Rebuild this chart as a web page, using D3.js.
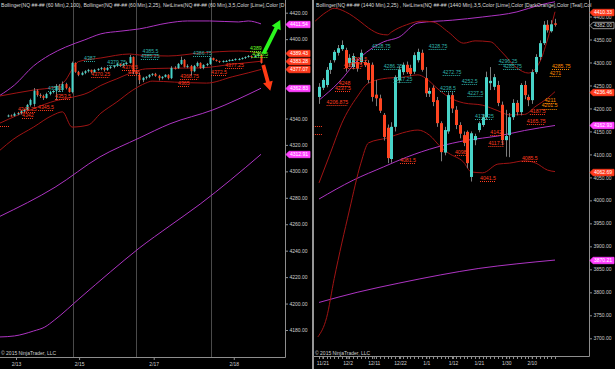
<!DOCTYPE html>
<html><head><meta charset="utf-8">
<script src="https://cdn.jsdelivr.net/npm/d3@7"></script>
<style>html,body{margin:0;padding:0;background:#000;overflow:hidden}svg{display:block}</style>
</head><body>
<svg id="chart" width="615" height="369"></svg>
<script>
// ---------------- LEFT PANEL DATA (60 min) ----------------
const leftTitle = "Bollinger(NQ ##-## (60 Min),2,100), Bollinger(NQ ##-## (60 Min),2,25), NetLines(NQ ##-## (60 Min),3,5,Color [Lime],Color [D";
const leftOpen = [4342,4342.25,4342,4343.5,4344,4345.5,4346.5,4350.25,4351,4361,4357.75,4357,4355.5,4358.5,4360,4361,4364.5,4361.5,4366,4363,4360,4382,4375.25,4373,4374.5,4375.75,4376.75,4375,4376.75,4377.5,4378.25,4376.75,4378.25,4379,4379.75,4381.25,4379.75,4381.25,4382,4386.5,4375.25,4373,4369,4370.75,4371.5,4373,4373.75,4372.25,4370.5,4371.5,4373,4370.5,4378.25,4378,4381.25,4384.25,4379,4379.75,4375.75,4379.75,4382,4378.25,4380.5,4381.25,4385.75,4384.25,4383.5,4382.75,4383.5,4383.5,4384.25,4384.25,4385,4385,4385.75,4386.5,4387.25,4386.5,4387.25,4388.25];
const leftHigh = [4343,4343,4344.5,4345,4346.5,4347.25,4351,4355,4363,4362,4359,4358,4359.5,4361,4361.5,4366,4366,4368,4367,4364,4383,4382.5,4376,4375.5,4376.5,4377.5,4377,4377.5,4378,4379,4378.75,4379,4380,4380.5,4382,4381.75,4382,4383,4388,4387,4376.5,4374.5,4371.5,4372,4373.5,4374.25,4374.5,4373,4372,4373.5,4373.5,4379.5,4379.5,4382,4386.75,4385,4381,4380.5,4380.5,4383,4382.5,4381,4382,4386.75,4386,4384.75,4383.75,4384,4384.25,4384.75,4385,4385.5,4385.75,4386.25,4387,4388,4387.75,4388.25,4389.5,4388.5];
const leftLow = [4341,4341.5,4341.5,4342.5,4343,4344.5,4345.75,4349,4349,4356.5,4355.5,4354,4355,4357.5,4359,4354,4360,4360.5,4362,4359.5,4359,4374.5,4372,4372.5,4373.5,4374.75,4374,4374.5,4376,4376.5,4375.5,4376,4377.5,4378,4379,4379,4379,4380.5,4381.5,4373.5,4372.5,4366,4367.5,4369.5,4370.5,4372,4371.5,4368.75,4369.5,4371,4369.5,4369.75,4377,4377.5,4380.5,4378.5,4378,4372.5,4375,4379,4377.5,4377.25,4379.5,4380.5,4383.75,4383,4382,4382.25,4382.75,4383,4383.5,4383.75,4384,4384.5,4385,4386,4385.5,4386,4386.75,4381.5];
const leftClose = [4342.25,4342,4343.5,4344,4345.5,4346.5,4350.25,4354,4361,4357.75,4357,4355.5,4358.5,4360,4360.75,4364.5,4361.5,4366,4363,4360,4382,4375.25,4373,4374.5,4375.75,4376.75,4375,4376.75,4377.5,4378.25,4376.75,4378.25,4379,4379.75,4381.25,4379.75,4381.25,4382,4386.5,4375.25,4373.75,4369,4370.75,4371.5,4373,4373.75,4372.25,4370.5,4371.5,4373,4370.5,4378.25,4378,4381.25,4384.25,4379,4379.75,4375.75,4379.75,4382,4378.25,4380.5,4381.25,4385.75,4384.25,4383.5,4382.75,4383.5,4383.5,4384.25,4384.25,4385,4385,4385.75,4386.5,4387.25,4386.5,4387.25,4388.25,4382];
// Bollinger (2,25) – dark red
const lbUpIdx  = [-2.5, 8, 15, 18, 20, 22, 29, 38, 41, 50, 60, 72, 79];
const lbUpVal  = [4357, 4361.5, 4364, 4369, 4377, 4383, 4385.75, 4388.75, 4388, 4387.25, 4389.5, 4391, 4389.43];
const lbMidIdx = [-2.5, 8, 15, 20, 25, 29, 34, 39, 43, 50, 60, 70, 79];
const lbMidVal = [4336.5, 4347.5, 4353.5, 4356, 4359.5, 4365, 4370, 4375, 4377.5, 4378, 4378.25, 4381, 4383.28];
const lbLoIdx  = [-2.5, 1.5, 8, 14, 17, 20, 25, 29, 34, 39, 43, 45, 52, 62, 70, 75, 79];
const lbLoVal  = [4316, 4324, 4333.5, 4342.5, 4345, 4333.5, 4335, 4344, 4352.5, 4361.5, 4366.75, 4368.25, 4367.5, 4366.75, 4371.5, 4374.5, 4377.07];
// Bollinger (2,100) – magenta
const lmUpIdx  = [-2.5, 2, 8, 13, 18, 24, 29, 35, 41, 50, 56, 63, 72, 75, 79];
const lmUpVal  = [4357.5, 4365.25, 4379.75, 4388, 4394, 4399.5, 4404, 4406, 4407.75, 4412.25, 4413.75, 4413.75, 4413, 4413.75, 4411.54];
const lmMidIdx = [-2.5, 14.7, 28.75, 41, 50.6, 64, 79];
const lmMidVal = [4266, 4288, 4311, 4325.25, 4336, 4346.5, 4362.83];
const lmLoIdx  = [-2.5, 2, 8, 11.5, 14.5, 22.5, 32, 41, 50.5, 60, 69.5, 79];
const lmLoVal  = [4174.75, 4175.5, 4179.25, 4182.25, 4187.5, 4204.25, 4224, 4242, 4258.75, 4275.25, 4293.5, 4312.91];
// NetLines labels
const lLabText  = ["4387","4379.75","4385.5","4385.25","4386.75","4359.5","4370.25","4376.5","4378","4368.75","4365","4377.25","4372.5","4345.5","4353.5","4343.25","4342","4389","4388.5",""];
const lLabIdx   = [23.75, 31, 42, 41.5, 57.8, 12.5, 26, 35.6, 37.5, 53.75, 53.1, 67.8, 63.4, 9.4, 14.7, 3.1, 4.4, 75.6, 76.3, -2.5];
const lLabPrice = [4383.5, 4380.4, 4388.8, 4385.0, 4387.2, 4360.8, 4371.4, 4376.7, 4372.9, 4369.9, 4364.6, 4378.2, 4372.9, 4346.4, 4354.7, 4344.9, 4340.5, 4391, 4386.5, 4334.3];
const lLabColor = ["T","T","T","T","T","T","R","R","R","R","R","R","R","R","R","R","R","G","G","R"];
const lSessionBreaks = [20.3, 40, 63.4];
const lDateText = ["2/13","2/15","2/17","2/18"];
const lDateIdx  = [2.5, 22.2, 45.5, 70.5];
const lYTicks = [4180,4200,4220,4240,4260,4280,4300,4320,4340,4360,4380,4400,4420];
const lMarkVal = [4411.54, 4389.43, 4383.28, 4377.07, 4362.83, 4312.91];
const lMarkCol = ["M","R","R","R","M","M"];
const lArrowUp   = [[79.8, 4389], [85, 4414.5]];
const lArrowDown = [[79.7, 4380.4], [81.9, 4361]];

// ---------------- RIGHT PANEL DATA (1440 min) ----------------
const rightTitle = "Bollinger(NQ ##-## (1440 Min),2,25) , NetLines(NQ ##-## (1440 Min),3,5,Color [Lime],Color [DarkOrange],Color [Teal],Col";
const rOpen  = [4225,4245,4251,4284,4305,4321,4329,4327,4299,4290,4301,4301,4301,4299,4295,4230,4222,4186,4158,4090,4160,4262,4279,4295,4288,4280,4305,4321,4266,4232,4245,4218,4168,4104,4150,4229,4197,4164,4142,4149,4051,4131,4153,4164,4181,4255,4247,4251,4208,4131,4142,4181,4212,4192,4251,4225,4218,4279,4312,4342,4382,4368,4385];
const rHigh  = [4255,4266,4290,4305,4327,4338,4348,4332,4318,4320,4308,4328,4306,4305,4300,4262,4230,4190,4165,4170,4272,4292,4300,4302,4295,4322,4330,4328,4290,4245,4250,4225,4172,4160,4235,4235,4205,4170,4150,4152,4150,4145,4172,4188,4280,4290,4275,4260,4215,4197,4190,4220,4218,4255,4260,4230,4285,4318,4348,4390,4392,4392,4395];
const rLow   = [4210,4240,4246,4275,4300,4315,4325,4280,4290,4285,4280,4296,4290,4255,4215,4205,4190,4130,4081,4082,4150,4255,4273,4275,4270,4275,4300,4280,4225,4225,4205,4160,4085,4098,4145,4190,4155,4135,4118,4070,4041,4120,4148,4160,4175,4240,4240,4205,4120,4095,4094,4175,4185,4185,4220,4205,4210,4275,4305,4338,4365,4365,4378];
const rClose = [4247,4262,4284,4299,4323,4331,4338,4288,4310,4314,4288,4321,4294,4262,4225,4222,4195,4138,4092,4160,4268,4284,4295,4279,4275,4316,4323,4284,4233,4238,4214,4168,4105,4153,4229,4200,4164,4145,4125,4081,4146,4140,4168,4181,4268,4260,4268,4212,4131,4140,4181,4212,4192,4251,4229,4218,4279,4312,4342,4382,4370,4383,4382];
const rbUpIdx  = [-1, 2, 4, 7, 11, 13, 16, 18, 19, 23, 27, 30, 34, 38, 41, 45, 48, 52, 55, 58, 60, 62];
const rbUpVal  = [4390, 4410, 4418, 4410, 4388, 4375, 4362, 4360, 4366, 4382, 4390, 4388, 4366, 4342, 4347, 4345, 4323, 4288, 4277, 4301, 4349, 4410.33];
const rbMidIdx = [0, 3, 6, 10, 13, 18, 22, 26, 28, 31, 34, 38, 43, 47, 50, 54, 57, 60, 62];
const rbMidVal = [4038, 4103, 4168, 4225, 4255, 4266, 4268, 4273, 4266, 4244, 4225, 4212, 4207, 4195, 4186, 4187, 4205, 4222, 4236.46];
const rbLoIdx  = [-0.3, 2, 4, 8, 11, 13, 18, 22, 26, 29, 32, 34, 38, 40, 43, 47, 50, 54, 57, 60, 62];
const rbLoVal  = [3703, 3745, 3830, 3979, 4081, 4125, 4136, 4147, 4153, 4142, 4116, 4103, 4083, 4062, 4060, 4079, 4081, 4086, 4081, 4066, 4062.69];
const rmUpIdx  = [0, 5, 11, 17, 21, 26, 35, 43, 52, 58, 62];
const rmUpVal  = [4218, 4255, 4312, 4345, 4355, 4386, 4392, 4399, 4410, 4425, 4432];
const rmMidIdx = [0, 9, 17, 23, 31, 39, 47, 54, 62];
const rmMidVal = [4003, 4044, 4073, 4094, 4116, 4131, 4140, 4152, 4162.93];
const rmLoIdx  = [0, 10, 21, 32, 42, 52, 62];
const rmLoVal  = [3778, 3800, 3820, 3838, 3852, 3862, 3870.21];
const rLabText  = ["4328.75","4328.75","4286.25","4257.25","4272.75","4238.5","4252.5","4227.5","4296.25","4285.75","4176.25","4301.5","4287.75","4248","4237.5","4206.875","4081.5","4041.5","4085.5","4165.75","4187.5","4142","4117.5","4098","4285.75","4271","4211","4201.5","",""];
const rLabIdx   = [13.9, 28.8, 17, 19.6, 32.5, 31.8, 37.5, 39, 47.2, 48.4, 41, 8.5, 6.5, 5.2, 4.2, 2, 21.3, 42.3, 53.3, 54.6, 55.4, 45, 44.5, 35.7, 61.2, 60.6, 59.3, 58.5, -1.6, -1.6];
const rLabPrice = [4328.75, 4328.75, 4286.25, 4257.25, 4272.75, 4238.5, 4252.5, 4227.5, 4296.25, 4285.75, 4176.25, 4301.5, 4287.75, 4248, 4237.5, 4206.875, 4081.5, 4041.5, 4085.5, 4165.75, 4187.5, 4142, 4117.5, 4098, 4285.75, 4271, 4211, 4199.5, 4162, 4144];
const rLabColor = ["T","T","T","T","T","T","T","T","T","T","T","R","R","R","R","R","R","R","R","R","R","R","R","R","O","O","O","O","R","R"];
const rDateText = ["11/21","12/2","12/11","12/22","1/1","1/12","1/21","1/30","2/10"];
const rDateIdx  = [0.9, 7.5, 14.4, 21.3, 28.2, 35.2, 42, 49.2, 55.9];
const rYTicks = [3700,3750,3800,3850,3900,3950,4000,4050,4100,4150,4200,4250,4300,4350,4400];
const rMarkVal = [4410.33, 4382.00, 4236.46, 4162.93, 4062.69, 3870.21];
const rMarkCol = ["R","K","R","M","R","M"];

// ---------------- STYLE ----------------
const FONT = '"Liberation Sans", Arial, sans-serif';
const UP = '#48d4c9', DN = '#ff4521', WICK = '#7c7c7c';
const DARKRED = '#a01414', MAGENTA = '#ad34c2';
const LABCOL = {T:'#2fb0a8', R:'#ff3b1e', O:'#ff8c00', G:'#66ff22'};
const MARKFILL = {R:'#ff3b1e', M:'#ff40ff', K:'#000'};
const AXIS = '#8e8e8e', TXT = '#cfcfcf';

const svg = d3.select('#chart');
svg.append('rect').attr('width',615).attr('height',369).attr('fill','#000');
const defs = svg.append('defs');
defs.append('clipPath').attr('id','clipL').append('rect').attr('x',0).attr('y',0).attr('width',285).attr('height',357);
defs.append('clipPath').attr('id','clipR').append('rect').attr('x',313.5).attr('y',0).attr('width',275.5).attr('height',356);

// scales
const lx = d3.scaleLinear().domain([0,79]).range([8,261]);
const ly = d3.scaleLinear().domain([4180,4420]).range([330,12.7]);
const rx = d3.scaleLinear().domain([0,62]).range([319,555]);
const ry = d3.scaleLinear().domain([3700,4400]).range([338.3,16.5]);

function curve(g, x, y, idx, val, color, w){
  const pts = idx.map((d,i)=>[d,val[i]]);
  g.append('path').datum(pts)
    .attr('d', d3.line().x(d=>x(d[0])).y(d=>y(d[1])).curve(d3.curveMonotoneX))
    .attr('fill','none').attr('stroke',color).attr('stroke-width',w||1);
}
function candles(g, x, y, O, Hh, L, C, bw){
  const idx = d3.range(O.length);
  g.selectAll(null).data(idx).join('line')
    .attr('x1',i=>Math.round(x(i))+0.5).attr('x2',i=>Math.round(x(i))+0.5)
    .attr('y1',i=>y(Hh[i])).attr('y2',i=>y(L[i]))
    .attr('stroke',WICK).attr('stroke-width',1);
  g.selectAll(null).data(idx).join('rect')
    .attr('x',i=>Math.round(x(i))+0.5-bw/2).attr('width',bw)
    .attr('y',i=>y(Math.max(O[i],C[i])))
    .attr('height',i=>Math.max(1,Math.abs(y(O[i])-y(C[i]))))
    .attr('fill',i=>C[i]>=O[i]?UP:DN);
}
function netLabels(g, x, y, texts, idx, prices, cols){
  const data = texts.map((t,i)=>({t, i:idx[i], p:prices[i], c:LABCOL[cols[i]]}));
  g.selectAll(null).data(data).join('line')
    .attr('x1',d=>x(d.i)).attr('x2',d=>x(d.i)+(d.t? d.t.length*2.45+1 : 9))
    .attr('y1',d=>Math.round(y(d.p))+0.5).attr('y2',d=>Math.round(y(d.p))+0.5)
    .attr('stroke',d=>d.c).attr('stroke-width',1).attr('stroke-dasharray','1,1');
  g.selectAll(null).data(data.filter(d=>d.t)).join('text')
    .attr('x',d=>x(d.i)).attr('y',d=>y(d.p)-1.2).text(d=>d.t)
    .attr('fill',d=>d.c).attr('font-family',FONT).attr('font-size',5.2);
}
function yAxis(x0, y, ticks, y0, y1, markVals){
  // tick labels hidden under a price marker are left out, as in the reference
  const shown = ticks.filter(t=>!markVals.some(m=>Math.abs(y(m)-y(t))<4.6));
  const g = svg.append('g').attr('transform',`translate(${x0},0)`);
  g.call(d3.axisRight(y).tickValues(shown).tickFormat(d3.format('.2f')).tickSize(3).tickSizeOuter(0));
  g.select('.domain').remove();
  g.selectAll('.tick line').attr('stroke',AXIS);
  g.selectAll('.tick text').attr('fill',TXT).attr('font-family',FONT).attr('font-size',5).attr('x',4.5);
  svg.append('line').attr('x1',x0+0.5).attr('x2',x0+0.5).attr('y1',y0).attr('y2',y1).attr('stroke',AXIS);
}
function xAxis(y0, x, idxs, texts, xa, xb, minor){
  svg.append('line').attr('x1',xa).attr('x2',xb).attr('y1',y0+0.5).attr('y2',y0+0.5).attr('stroke',AXIS);
  const g = svg.append('g').attr('transform',`translate(0,${y0})`);
  g.call(d3.axisBottom(x).tickValues(idxs).tickFormat((d,i)=>texts[i]).tickSize(3).tickSizeOuter(0));
  g.select('.domain').remove();
  g.selectAll('.tick line').attr('stroke',AXIS);
  g.selectAll('.tick text').attr('fill',TXT).attr('font-family',FONT).attr('font-size',5).attr('y',5);
  if(minor){
    g.selectAll(null).data(minor).join('line')
      .attr('x1',d=>Math.round(x(d))+0.5).attr('x2',d=>Math.round(x(d))+0.5)
      .attr('y1',0).attr('y2',3).attr('stroke',AXIS);
  }
}
function markers(x0, y, vals, cols){
  const g = svg.append('g');
  vals.forEach((v,i)=>{
    const yy = Math.round(y(v))+0.5, h=3.2, w=24;
    const k = cols[i];
    g.append('path')
      .attr('d',`M${x0},${yy} L${x0+3},${yy-h} L${x0+w},${yy-h} L${x0+w},${yy+h} L${x0+3},${yy+h} Z`)
      .attr('fill',MARKFILL[k]).attr('stroke',k==='K'?'#bbb':MARKFILL[k]).attr('stroke-width',0.8);
    g.append('text').attr('x',x0+4).attr('y',yy).attr('dy','0.36em').text(d3.format('.2f')(v))
      .attr('fill',k==='K'?'#ddd':'#fff').attr('font-family',FONT).attr('font-size',5);
  });
}
function arrow(g, x, y, seg, color){
  const x1=x(seg[0][0]), y1=y(seg[0][1]), x2=x(seg[1][0]), y2=y(seg[1][1]);
  const dx=x2-x1, dy=y2-y1, L=Math.hypot(dx,dy), ux=dx/L, uy=dy/L, px=-uy, py=ux;
  const hl=9, hw=5, sw=1.9;
  const bx=x2-ux*hl, by=y2-uy*hl;
  const pts=[[x1+px*sw,y1+py*sw],[bx+px*sw,by+py*sw],[bx+px*hw,by+py*hw],[x2,y2],[bx-px*hw,by-py*hw],[bx-px*sw,by-py*sw],[x1-px*sw,y1-py*sw]];
  g.append('path').attr('d','M'+pts.map(p=>p.join(',')).join('L')+'Z').attr('fill',color);
}

// ---------------- LEFT PANEL ----------------
const gl = svg.append('g').attr('clip-path','url(#clipL)');
gl.selectAll(null).data(lSessionBreaks).join('line')
  .attr('x1',d=>Math.round(lx(d))+0.5).attr('x2',d=>Math.round(lx(d))+0.5)
  .attr('y1',0).attr('y2',357).attr('stroke','#4a4a4a');
curve(gl, lx, ly, lmUpIdx, lmUpVal, MAGENTA);
curve(gl, lx, ly, lmMidIdx, lmMidVal, MAGENTA);
curve(gl, lx, ly, lmLoIdx, lmLoVal, MAGENTA);
curve(gl, lx, ly, lbUpIdx, lbUpVal, DARKRED);
curve(gl, lx, ly, lbMidIdx, lbMidVal, DARKRED);
curve(gl, lx, ly, lbLoIdx, lbLoVal, DARKRED);
candles(gl, lx, ly, leftOpen, leftHigh, leftLow, leftClose, 2);
netLabels(gl, lx, ly, lLabText, lLabIdx, lLabPrice, lLabColor);
arrow(gl, lx, ly, lArrowUp, '#2bf51e');
arrow(gl, lx, ly, lArrowDown, '#ff3a14');

svg.append('text').attr('x',1).attr('y',7).text(leftTitle)
  .attr('fill','#dcdcdc').attr('font-family',FONT).attr('font-size',5.1);
svg.append('text').attr('x',1).attr('y',355).text('\u00a9 2015 NinjaTrader, LLC')
  .attr('fill','#cfcfcf').attr('font-family',FONT).attr('font-size',5);
yAxis(285, ly, lYTicks, 0, 357.5, lMarkVal);
xAxis(357, lx, lDateIdx, lDateText, 0, 285.5, null);
markers(286, ly, lMarkVal, lMarkCol);

// ---------------- RIGHT PANEL ----------------
const gr = svg.append('g').attr('clip-path','url(#clipR)');
curve(gr, rx, ry, rmUpIdx, rmUpVal, MAGENTA);
curve(gr, rx, ry, rmMidIdx, rmMidVal, MAGENTA);
curve(gr, rx, ry, rmLoIdx, rmLoVal, MAGENTA);
curve(gr, rx, ry, rbUpIdx, rbUpVal, DARKRED);
curve(gr, rx, ry, rbMidIdx, rbMidVal, DARKRED);
curve(gr, rx, ry, rbLoIdx, rbLoVal, DARKRED);
candles(gr, rx, ry, rOpen, rHigh, rLow, rClose, 3);
netLabels(gr, rx, ry, rLabText, rLabIdx, rLabPrice, rLabColor);

svg.append('line').attr('x1',313).attr('x2',313).attr('y1',0).attr('y2',369).attr('stroke','#c8c8c8').attr('stroke-width',1.5);
svg.append('text').attr('x',316).attr('y',7).text(rightTitle)
  .attr('fill','#dcdcdc').attr('font-family',FONT).attr('font-size',5.1);
svg.append('text').attr('x',315).attr('y',355).text('\u00a9 2015 NinjaTrader, LLC')
  .attr('fill','#cfcfcf').attr('font-family',FONT).attr('font-size',5);
yAxis(589, ry, rYTicks, 0, 356.5, rMarkVal);
xAxis(356, rx, rDateIdx, rDateText, 313, 589.5, d3.range(rOpen.length));
markers(590, ry, rMarkVal, rMarkCol);
</script>
</body></html>
